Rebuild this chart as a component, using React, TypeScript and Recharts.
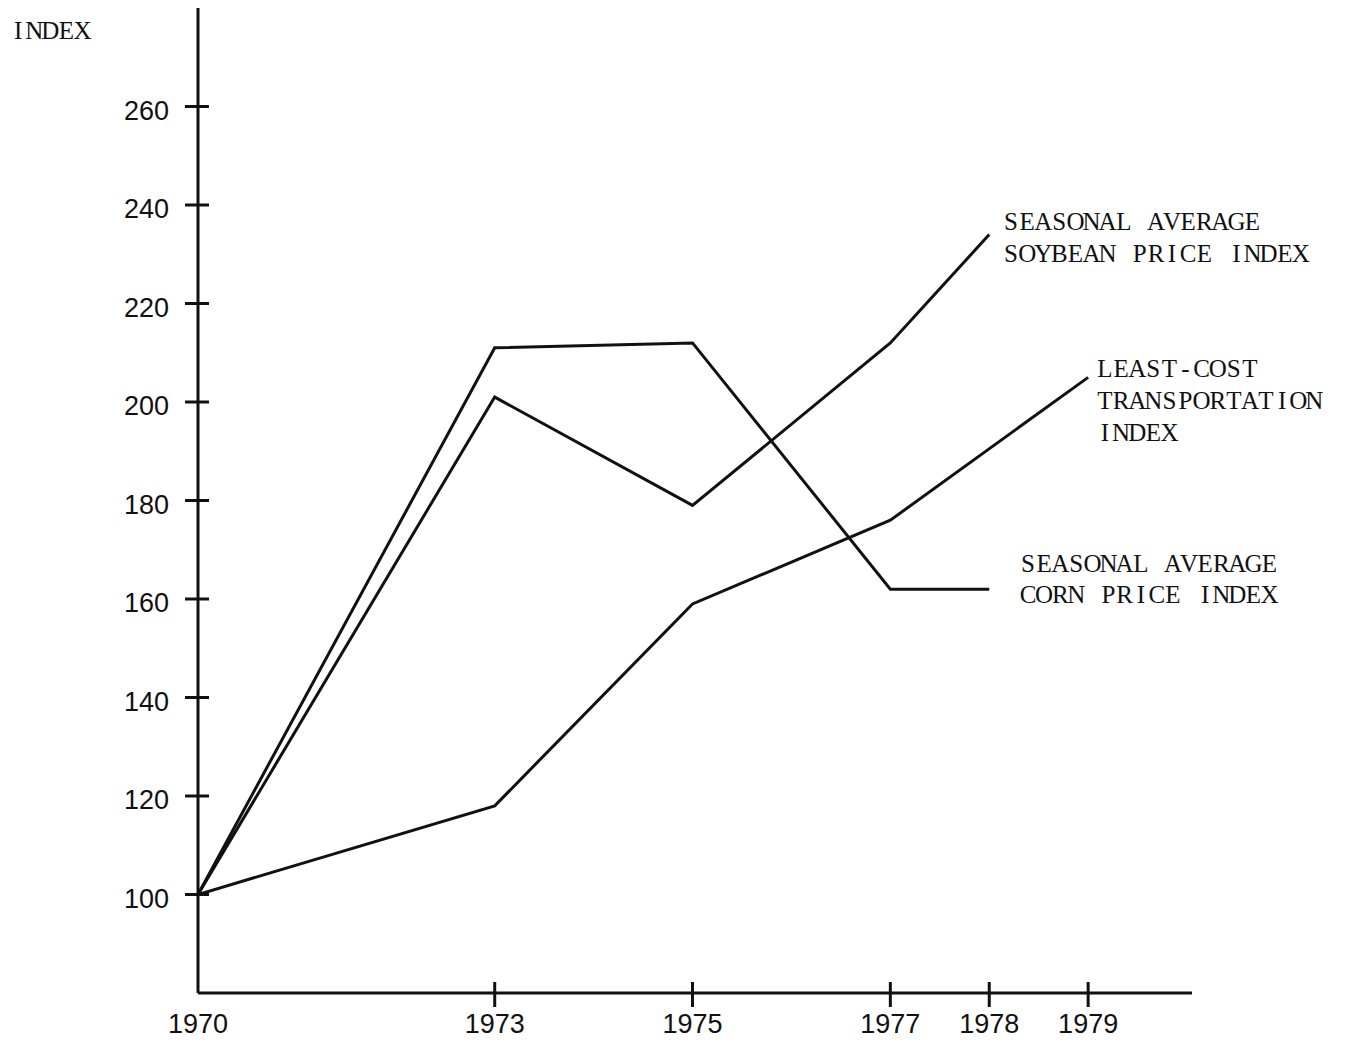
import React from 'react';
import { LineChart, Line, XAxis, YAxis } from 'recharts';

const years = [1970, 1973, 1975, 1977, 1978, 1979];
const soybeanIndex = [100, 201, 179, 212, 234, null];
const cornIndex = [100, 211, 212, 162, 162, null];
const transportIndex = [100, 118, 159, 176, null, 205];

const xTicks = [1970, 1973, 1975, 1977, 1978, 1979];
const yTicks = [100, 120, 140, 160, 180, 200, 220, 240, 260];

const yAxisTitle = 'INDEX';
const soybeanLabel = ['SEASONAL AVERAGE', 'SOYBEAN PRICE INDEX'];
const transportLabel = ['LEAST-COST', 'TRANSPORTATION', 'INDEX'];
const cornLabel = ['SEASONAL AVERAGE', 'CORN PRICE INDEX'];

const data = years.map((year, i) => ({
  year,
  soybean: soybeanIndex[i],
  corn: cornIndex[i],
  transport: transportIndex[i],
}));

const INK = '#111';
const TYPE_FONT = '"Liberation Serif", "DejaVu Serif", serif';
const NUM_FONT = '"Liberation Sans", Arial, sans-serif';
const CHAR_ADV = 16.1;

const YTick = (props: any) => {
  const { x, y, payload } = props;
  return (
    <g>
      <line x1={x - 13} x2={x + 11} y1={y} y2={y} stroke={INK} strokeWidth={3} />
      <text x={x - 29} y={y + 13} textAnchor="end" fontFamily={NUM_FONT} fontSize={27} fill={INK}>
        {payload.value}
      </text>
    </g>
  );
};

const XTick = (props: any) => {
  const { x, y, payload } = props;
  return (
    <g>
      {payload.value !== 1970 && (
        <line x1={x} x2={x} y1={y - 11} y2={y + 14} stroke={INK} strokeWidth={3} />
      )}
      <text x={x} y={y + 40} textAnchor="middle" fontFamily={NUM_FONT} fontSize={27} fill={INK}>
        {payload.value}
      </text>
    </g>
  );
};

// typewriter-style text: every character centred in a fixed-width cell
const TypeText = ({ text, x, y }: { text: string; x: number; y: number }) => {
  const xs = Array.from(text).map((_, i) => (x + i * CHAR_ADV + CHAR_ADV / 2).toFixed(1)).join(' ');
  return (
    <text x={xs} y={y} textAnchor="middle" fontFamily={TYPE_FONT} fontSize={25} fill={INK}>
      {text}
    </text>
  );
};

const Block = ({ lines, x, y, step }: { lines: string[]; x: number; y: number; step: number }) => (
  <>
    {lines.map((t, i) => (
      <TypeText key={i} text={t} x={x} y={y + i * step} />
    ))}
  </>
);

export default function App() {
  return (
    <div style={{ position: 'absolute', left: 0, top: 0, width: 1346, height: 1043, background: '#fff' }}>
      <LineChart
        width={1346}
        height={1043}
        data={data}
        margin={{ top: 8, right: 154, left: 0, bottom: 0 }}
      >
        <XAxis
          dataKey="year"
          type="number"
          domain={[1970, 1980.05]}
          ticks={xTicks}
          tick={<XTick />}
          tickLine={false}
          tickSize={0}
          tickMargin={0}
          height={50}
          axisLine={{ stroke: INK, strokeWidth: 3 }}
          allowDataOverflow
        />
        <YAxis
          type="number"
          domain={[80, 280]}
          ticks={yTicks}
          tick={<YTick />}
          tickLine={false}
          tickSize={0}
          tickMargin={0}
          width={198}
          axisLine={{ stroke: INK, strokeWidth: 3 }}
          allowDataOverflow
        />
        <Line type="linear" dataKey="soybean" stroke={INK} strokeWidth={3} dot={false} isAnimationActive={false} />
        <Line type="linear" dataKey="corn" stroke={INK} strokeWidth={3} dot={false} isAnimationActive={false} />
        <Line type="linear" dataKey="transport" stroke={INK} strokeWidth={3} dot={false} connectNulls isAnimationActive={false} />
      </LineChart>
      <svg
        width={1346}
        height={1043}
        style={{ position: 'absolute', left: 0, top: 0, pointerEvents: 'none' }}
      >
        <TypeText text={yAxisTitle} x={10} y={39} />
        <Block lines={soybeanLabel} x={1003} y={230} step={32} />
        <Block lines={transportLabel} x={1097} y={377} step={32} />
        <Block lines={cornLabel} x={1020} y={572} step={31} />
      </svg>
    </div>
  );
}
